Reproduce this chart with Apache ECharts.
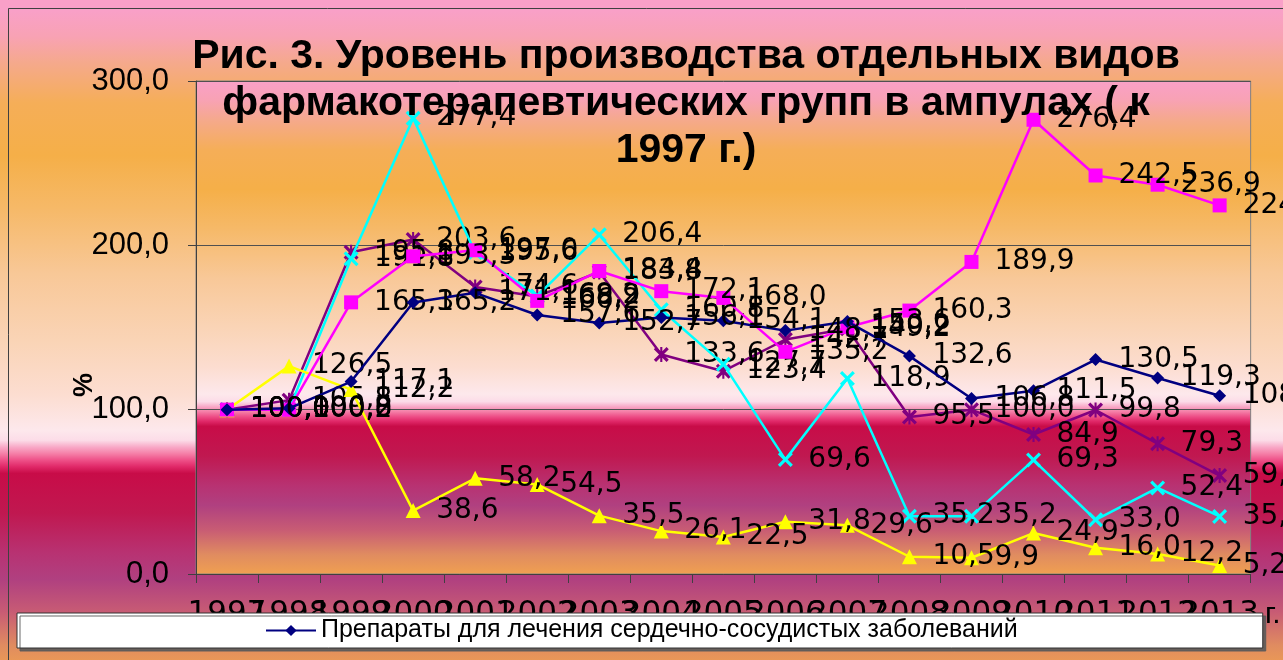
<!DOCTYPE html>
<html><head><meta charset="utf-8">
<script src="https://cdn.jsdelivr.net/npm/echarts@6/dist/echarts.min.js"></script>
<style>html,body{margin:0;padding:0;}#c{width:1283px;height:660px;}</style>
</head><body><div id="c"></div>
<script>
const categories = ['1997','1998','1999','2000','2001','2002','2003','2004','2005','2006','2007','2008','2009','2010','2011','2012','2013'];
const seriesNames = ['Препараты для лечения сердечно-сосудистых заболеваний','Серия 2','Серия 3','Серия 4','Серия 5'];
const cardio  = [100.0,100.8,117.1,165.2,171.1,157.6,152.7,156.1,154.1,148.1,153.6,132.6,106.8,111.5,130.5,119.3,108.5];
const magenta = [100.0,100.0,165.3,193.3,197.0,166.2,184.4,172.1,168.0,135.2,150.2,160.3,189.9,276.4,242.5,236.9,224.3];
const yellow  = [100.0,126.5,112.2,38.6,58.2,54.5,35.5,26.1,22.5,31.8,29.6,10.5,9.9,24.9,16.0,12.2,5.2];
const cyan    = [100.0,100.2,191.8,277.4,195.6,169.2,206.4,160.8,127.7,69.6,118.9,35.2,35.2,69.3,33.0,52.4,35.0];
const purple  = [100.0,105.8,195.8,203.6,174.6,168.9,183.8,133.6,123.4,142.7,149.2,95.5,100.0,84.9,99.8,79.3,59.9];
const yTicks = [0,100,200,300];
const titleText = 'Рис. 3. Уровень производства отдельных видов\nфармакотерапевтических групп в ампулах ( к\n1997 г.)';

const fmt = v => (typeof v === 'number' ? v : v.value).toFixed(1).replace('.', ',');

function grad(y0, y1){
  const g = {type:'linear',x:0,y:0,x2:0,y2:1,colorStops:[
    {offset:0.00,color:'#F9A0C8'},
    {offset:0.04,color:'#F8A2B4'},
    {offset:0.08,color:'#F5A98C'},
    {offset:0.14,color:'#F5AE58'},
    {offset:0.22,color:'#F5AF48'},
    {offset:0.30,color:'#F6B968'},
    {offset:0.40,color:'#F8C898'},
    {offset:0.50,color:'#FAD4B6'},
    {offset:0.58,color:'#FCDDD0'},
    {offset:0.635,color:'#FDE8EC'},
    {offset:0.650,color:'#FCDCE8'},
    {offset:0.660,color:'#F8AAC8'},
    {offset:0.670,color:'#F580A8'},
    {offset:0.680,color:'#EE5088'},
    {offset:0.690,color:'#E02868'},
    {offset:0.700,color:'#C80C48'},
    {offset:0.76,color:'#C01850'},
    {offset:0.82,color:'#B83272'},
    {offset:0.86,color:'#B04080'},
    {offset:0.91,color:'#C85C74'},
    {offset:0.96,color:'#E08C60'},
    {offset:1.00,color:'#F0A050'}
  ]};
  if (y0 !== undefined) { g.global = true; g.x = 0; g.x2 = 0; g.y = y0; g.y2 = y1; }
  return g;
}

const X_PATH = 'path://M0,1.5 L1.5,0 L5,3.5 L8.5,0 L10,1.5 L6.5,5 L10,8.5 L8.5,10 L5,6.5 L1.5,10 L0,8.5 L3.5,5 Z';
const STAR_PATH = 'path://M0,1.5 L1.5,0 L5,3.5 L8.5,0 L10,1.5 L6.5,5 L10,8.5 L8.5,10 L5,6.5 L1.5,10 L0,8.5 L3.5,5 Z M4.3,0 L5.7,0 L5.7,10 L4.3,10 Z';

function mk(name, data, color, symbol, size, z){
  return {
    name, type:'line', data, symbol, symbolSize:size, z,
    lineStyle:{color, width:2.5}, itemStyle:{color},
    label:{show:true, position:'right', distance: 23 - size/2, formatter: p=>fmt(p.value),
      color:'#000', fontFamily:'DejaVu Sans', fontSize:28},
    emphasis:{disabled:true}, animation:false
  };
}

const chart = echarts.init(document.getElementById('c'), null, {renderer:'canvas'});
chart.setOption({
  animation:false,
  backgroundColor: grad(10, 672),
  title:{text:titleText, left:686, top:33, padding:0, textAlign:'center',
    textStyle:{fontFamily:'Liberation Sans', fontWeight:'bold', fontSize:41, lineHeight:47, color:'#000'}},
  grid:{left:196, right:12, top:81, bottom:86, show:true, backgroundColor:grad(), borderColor:'#808080', borderWidth:1},
  legend:{data:[seriesNames[0]], left:17, top:613, orient:'horizontal',
    padding:[5,245,5,248], itemWidth:50, itemHeight:14,
    backgroundColor:'#fff', borderColor:'#333', borderWidth:1,
    shadowColor:'rgba(90,90,90,0.9)', shadowOffsetX:3, shadowOffsetY:3, shadowBlur:0,
    textStyle:{fontFamily:'Liberation Sans', fontSize:25, color:'#000'}},
  xAxis:{type:'category', data:categories, boundaryGap:true,
    name:'г.', nameLocation:'end', nameGap:0,
    nameTextStyle:{fontFamily:'Liberation Sans', fontSize:30, color:'#000', verticalAlign:'top', align:'left', padding:[26,0,0,0]},
    axisLine:{lineStyle:{color:'#404040', width:1}},
    axisTick:{show:true, length:9, interval:0, lineStyle:{color:'#404040'}},
    axisLabel:{interval:0, margin:24, fontFamily:'DejaVu Sans', fontSize:31, color:'#000', hideOverlap:false},
    splitLine:{show:false}},
  yAxis:{type:'value', min:yTicks[0], max:yTicks[yTicks.length-1], interval:100,
    axisLine:{show:true, lineStyle:{color:'#404040', width:1}},
    axisTick:{show:true, length:8, lineStyle:{color:'#404040'}},
    axisLabel:{formatter:v=>fmt(v), fontFamily:'Liberation Sans', fontSize:31, color:'#000', margin:27},
    splitLine:{show:true, lineStyle:{color:'#505050', width:1}}},
  graphic:[
    {type:'rect', shape:{x:8.5,y:8.5,width:1300,height:700}, style:{fill:'none', stroke:'#404040', lineWidth:1}, silent:true, z:-1},
    {type:'text', x:71, y:397, rotation:Math.PI/2, style:{text:'%', fontFamily:'Liberation Sans', fontWeight:'bold', fontSize:27, fill:'#000'}}
  ],
  series:[
    mk(seriesNames[0], cardio, '#000080', 'diamond', 13, 6),
    mk(seriesNames[1], magenta, '#FF00FF', 'rect', 14, 5),
    mk(seriesNames[2], yellow, '#FFFF00', 'triangle', 15, 4),
    mk(seriesNames[3], cyan, '#00FFFF', X_PATH, 15, 3),
    mk(seriesNames[4], purple, '#800080', STAR_PATH, 15, 2)
  ]
});
</script></body></html>
